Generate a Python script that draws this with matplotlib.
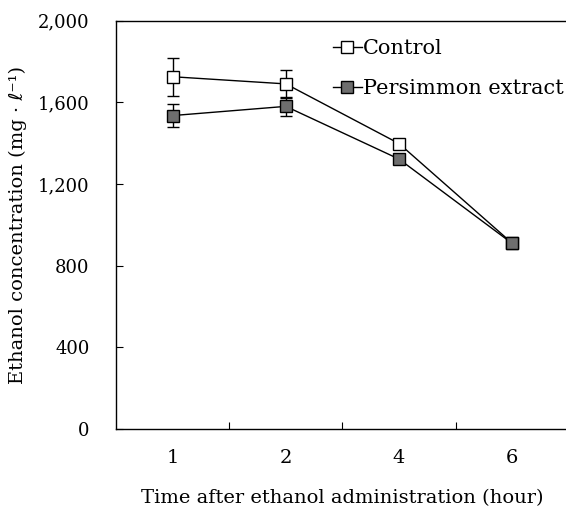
import matplotlib.pyplot as plt
from matplotlib.lines import Line2D
from matplotlib.ticker import FuncFormatter

# data
hours = ['1', '2', '4', '6']
control = [1725, 1690, 1398, 910]
control_err = [92, 70, 20, 10]
persimmon = [1535, 1580, 1322, 909]
persimmon_err = [55, 45, 15, 10]

plt.rcParams['font.family'] = ['DejaVu Serif', 'DejaVu Sans']
plt.rcParams['font.size'] = 14

fig = plt.figure(figsize=(5.66, 5.14), dpi=100)
ax = fig.add_axes([0.205, 0.165, 0.80, 0.795])

x = list(range(len(hours)))

ax.errorbar(x, control, yerr=control_err, color='black', lw=1,
            marker='s', ms=9, mfc='white', mec='black', mew=1,
            capsize=4, elinewidth=1, zorder=3)
ax.errorbar(x, persimmon, yerr=persimmon_err, color='black', lw=1,
            marker='s', ms=9, mfc='#6e6e6e', mec='black', mew=1,
            capsize=4, elinewidth=1, zorder=4)

ax.set_xlim(-0.5, 3.5)
ax.set_ylim(0, 2000)
ax.set_yticks([0, 400, 800, 1200, 1600, 2000])
ax.yaxis.set_major_formatter(FuncFormatter(lambda v, p: f'{int(v):,}'))

# category labels in the middle, small ticks between them
ax.set_xticks([0.5, 1.5, 2.5])
ax.set_xticklabels([])
ax.set_xticks(x, minor=True)
ax.set_xticklabels(hours, minor=True)
ax.tick_params(axis='x', which='major', direction='in', length=5)
ax.tick_params(axis='x', which='minor', length=0, pad=14)
ax.tick_params(axis='y', direction='in', length=5, pad=19, labelsize=13)

ax.spines['right'].set_visible(False)
for s in ['top', 'bottom', 'left']:
    ax.spines[s].set_linewidth(1)

ax.set_xlabel('Time after ethanol administration (hour)', labelpad=16)
ax.set_ylabel('Ethanol concentration (mg · ℓ⁻¹)', labelpad=8)

# legend without the error bars
handles = [
    Line2D([], [], color='black', lw=1, marker='s', ms=9, mfc='white', mec='black'),
    Line2D([], [], color='black', lw=1, marker='s', ms=9, mfc='#6e6e6e', mec='black'),
]
ax.legend(handles, ['Control', 'Persimmon extract'], loc='upper left',
          bbox_to_anchor=(0.46, 0.975), frameon=False, fontsize=15,
          handlelength=1.4, handletextpad=0.05, labelspacing=1.0,
          borderaxespad=0)

fig.savefig('out.png', dpi=100)
